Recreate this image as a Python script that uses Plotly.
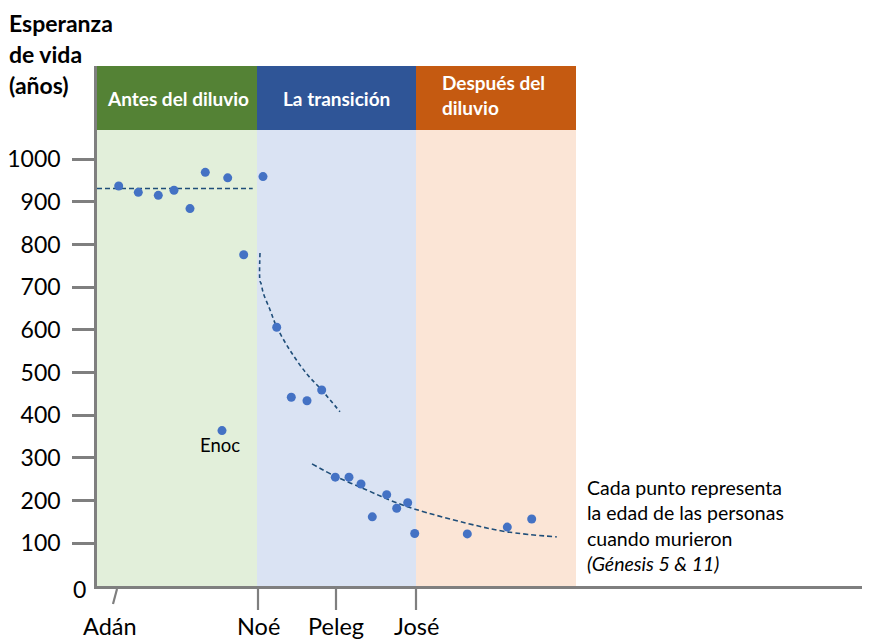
import plotly.graph_objects as go

# ---- data ----
# x: position along the generations axis (arbitrary units), y: lifespan in years
pts_x = [21.7, 41.3, 61.3, 77, 93, 108.3, 130.7, 146.7, 125, 166, 179.7, 194.3, 210, 224.7,
         238.3, 252, 264, 275.3, 289.7, 299.7, 310.7, 317.7, 370.3, 410.3, 434.7]
pts_y = [937, 922, 915, 927, 884, 969, 956, 776, 364, 959, 606, 442, 434, 459,
         255, 255, 239, 162, 214, 182, 195, 123, 122, 138, 157]

# trend lines
trend1_x = [0, 155.7]
trend1_y = [931, 931]
trend2_x = [163, 163, 164, 166.3, 173, 179.7, 193, 209.7, 224.7, 243]
trend2_y = [780, 714, 709, 686, 647, 607, 552, 497, 459, 408]
trend3_x = [215, 238.3, 269.7, 293, 318, 369.7, 409.7, 459.7]
trend3_y = [286, 257, 225, 201, 180, 147, 127, 115]

# eras
era_names = ["Antes del diluvio", "La transición", "Después del<br>diluvio"]
era_start = [0, 160, 319]
era_end = [160, 319, 479]
era_header = ["#548235", "#2F5597", "#C55A11"]
era_fill = ["#E2EFDA", "#DAE3F3", "#FBE5D6"]
header_bottom = 1068
y_top = 1218

# generation labels on the x axis
gen_names = ["Adán", "Noé", "Peleg", "José"]
gen_x = [16, 161, 239, 319]

y_ticks = [100, 200, 300, 400, 500, 600, 700, 800, 900, 1000]
title_lines = ["Esperanza", "de vida", "(años)"]
note_text = "Cada punto representa<br>la edad de las personas<br>cuando murieron<br><i>(Génesis 5 & 11)</i>"

FONT = "Lato"
GRAY = "#7F7F7F"

# page has an 8px body margin; size the figure so the plot lands where the reference has it
W, H = 865, 632
L, R, T, B = 89, 11, 58, 54
PW, PH = W - L - R, H - T - B


def px_to_paper(px, py):
    """window pixel -> paper coords (accounting for 8px page offset)"""
    fx, fy = px - 8, py - 8
    return (fx - L) / PW, (H - B - fy) / PH


fig = go.Figure()

shapes = []
annotations = []
for name, x0, x1, hc, fc in zip(era_names, era_start, era_end, era_header, era_fill):
    shapes.append(dict(type="rect", xref="x", yref="y", x0=x0, x1=x1, y0=0, y1=header_bottom,
                       fillcolor=fc, line=dict(width=0), layer="below"))
    shapes.append(dict(type="rect", xref="x", yref="y", x0=x0, x1=x1, y0=header_bottom, y1=y_top,
                       fillcolor=hc, line=dict(width=0), layer="below"))

hfont = dict(family=FONT, size=19, color="white")
annotations.append(dict(x=(era_start[0] + era_end[0]) / 2 + 1, y=(header_bottom + y_top) / 2,
                        xref="x", yref="y", text="<b>" + era_names[0] + "</b>", showarrow=False,
                        font=hfont))
annotations.append(dict(x=(era_start[1] + era_end[1]) / 2, y=(header_bottom + y_top) / 2,
                        xref="x", yref="y", text="<b>" + era_names[1] + "</b>", showarrow=False,
                        font=hfont))
annotations.append(dict(x=era_start[2] + 24, y=(header_bottom + y_top) / 2 + 6,
                        xref="x", yref="y", text="<b>" + era_names[2] + "</b>", showarrow=False,
                        xanchor="left", align="left", font=hfont))

fig.add_trace(go.Scatter(x=trend1_x, y=trend1_y, mode="lines",
                         line=dict(color="#1F4E79", width=1.6, dash="5px,3px"), hoverinfo="skip"))
fig.add_trace(go.Scatter(x=trend2_x, y=trend2_y, mode="lines", line_shape="spline",
                         line=dict(color="#1F4E79", width=1.6, dash="4px,3px"), hoverinfo="skip"))
fig.add_trace(go.Scatter(x=trend3_x, y=trend3_y, mode="lines", line_shape="spline",
                         line=dict(color="#1F4E79", width=1.6, dash="5px,3px"), hoverinfo="skip"))
fig.add_trace(go.Scatter(x=pts_x, y=pts_y, mode="markers",
                         marker=dict(color="#4472C4", size=9, line=dict(width=0))))

# x-axis tick marks and labels
for i, (nm, gx) in enumerate(zip(gen_names, gen_x)):
    if i == 0:
        shapes.append(dict(type="line", xref="x", yref="paper", x0=gx + 4, x1=gx,
                           y0=-3 / PH, y1=-18 / PH, line=dict(color=GRAY, width=2.2)))
    else:
        shapes.append(dict(type="line", xref="x", yref="paper", x0=gx, x1=gx,
                           y0=0, y1=-24 / PH, line=dict(color=GRAY, width=2.2)))
    annotations.append(dict(x=gx - (3 if i == 0 else 0), y=-40 / PH, xref="x", yref="paper", text=nm,
                            showarrow=False, yanchor="middle",
                            font=dict(family=FONT, size=23.5, color="#000000")))

# y-axis title
title_y = [23, 54, 85]
for t, py in zip(title_lines, title_y):
    tx, ty = px_to_paper(10, py)
    annotations.append(dict(x=tx, y=ty, xref="paper", yref="paper", text="<b>" + t + "</b>",
                            showarrow=False, xanchor="left", yanchor="middle", xshift=-3,
                            font=dict(family=FONT, size=23, color="#000000")))

# zero label
annotations.append(dict(x=0, y=0, xref="paper", yref="y", text="0", showarrow=False,
                        xanchor="right", yanchor="middle", xshift=-9, yshift=-3,
                        font=dict(family=FONT, size=23, color="#000000")))

# Enoc label
annotations.append(dict(x=pts_x[8] - 2, y=pts_y[8], xref="x", yref="y", text="Enoc", showarrow=False,
                        yshift=-14, font=dict(family=FONT, size=18.5, color="#000000")))

# note
annotations.append(dict(x=488, y=263, xref="x", yref="y", text=note_text,
                        showarrow=False, xanchor="left", yanchor="top", align="left",
                        font=dict(family=FONT, size=19.5, color="#000000")))

fig.update_layout(
    width=W, height=H, autosize=False,
    margin=dict(l=L, r=R, t=T, b=B, autoexpand=False),
    paper_bgcolor="white", plot_bgcolor="white",
    showlegend=False,
    shapes=shapes, annotations=annotations,
    xaxis=dict(range=[0, 765], showgrid=False, zeroline=False, showticklabels=False, ticks="",
               showline=True, linecolor=GRAY, linewidth=2.5, automargin=False),
    yaxis=dict(range=[0, y_top], showgrid=False, zeroline=False, tickvals=y_ticks,
               ticks="outside", ticklen=22, tickwidth=2.5, tickcolor=GRAY,
               showline=True, linecolor=GRAY, linewidth=2.5, automargin=False,
               tickfont=dict(family=FONT, size=23, color="#000000"), ticklabelstandoff=7),
)

fig.write_html("out.html")
